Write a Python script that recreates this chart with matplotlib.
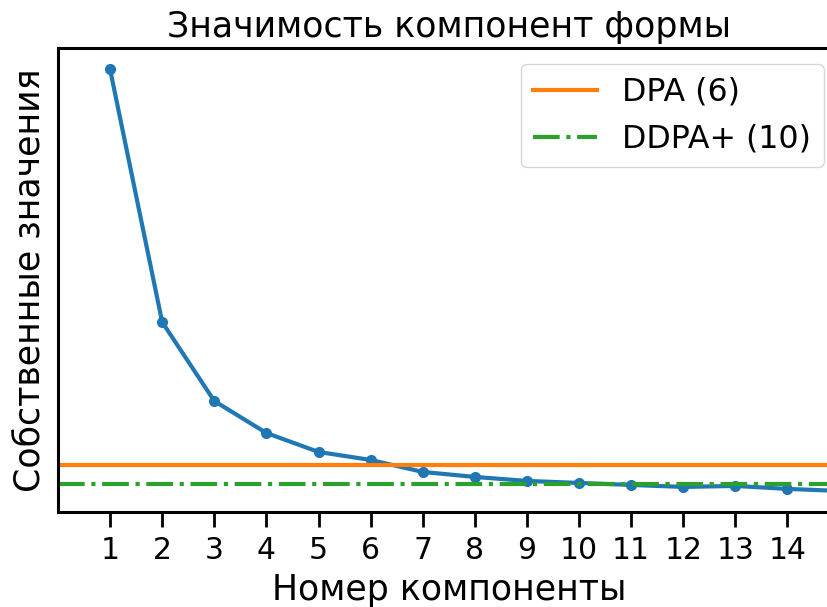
import numpy as np
import matplotlib
matplotlib.use('Agg')
from matplotlib import pyplot as plt

# eigenvalues of the shape components
components = [1, 2, 3, 4, 5, 6, 7, 8, 9, 10, 11, 12, 13, 14, 15]
eigenvalues = [4.43, 1.90, 1.11, 0.79, 0.60, 0.52, 0.40, 0.35, 0.31, 0.29, 0.27, 0.25, 0.26, 0.23, 0.21]
tick_positions = list(range(1, 15))

# thresholds for the number of retained components
dpa_level = 0.47
ddpa_level = 0.28
dpa_label = 'DPA (6)'
ddpa_label = 'DDPA+ (10)'

plt.rcParams['font.family'] = ['DejaVu Sans']

fig = plt.figure(figsize=(8.28, 6.07), dpi=100)
ax = fig.add_axes([0.070, 0.1565, 0.944, 0.764])

ax.plot(components, eigenvalues, marker='o', color='#1f77b4', linewidth=3, markersize=7)
ax.axhline(dpa_level, color='#ff7f0e', linewidth=3, label=dpa_label)
ax.axhline(ddpa_level, color='#2ca02c', linewidth=3, linestyle='-.', label=ddpa_label)

ax.set_xlim(0, 15)
ax.set_xticks(tick_positions)
ax.set_yticks([])
ax.tick_params(axis='x', length=11, width=2, labelsize=21.5, pad=6)
for side in ax.spines.values():
    side.set_linewidth(2.2)

ax.set_title('Значимость компонент формы', fontsize=25, pad=8)
ax.set_xlabel('Номер компоненты', fontsize=25, labelpad=6)
ax.set_ylabel('Собственные значения', fontsize=25, labelpad=8)
ax.legend(loc='upper right', fontsize=22.8, handlelength=2.0, borderaxespad=0.5)

fig.savefig('out.png', dpi=100)
